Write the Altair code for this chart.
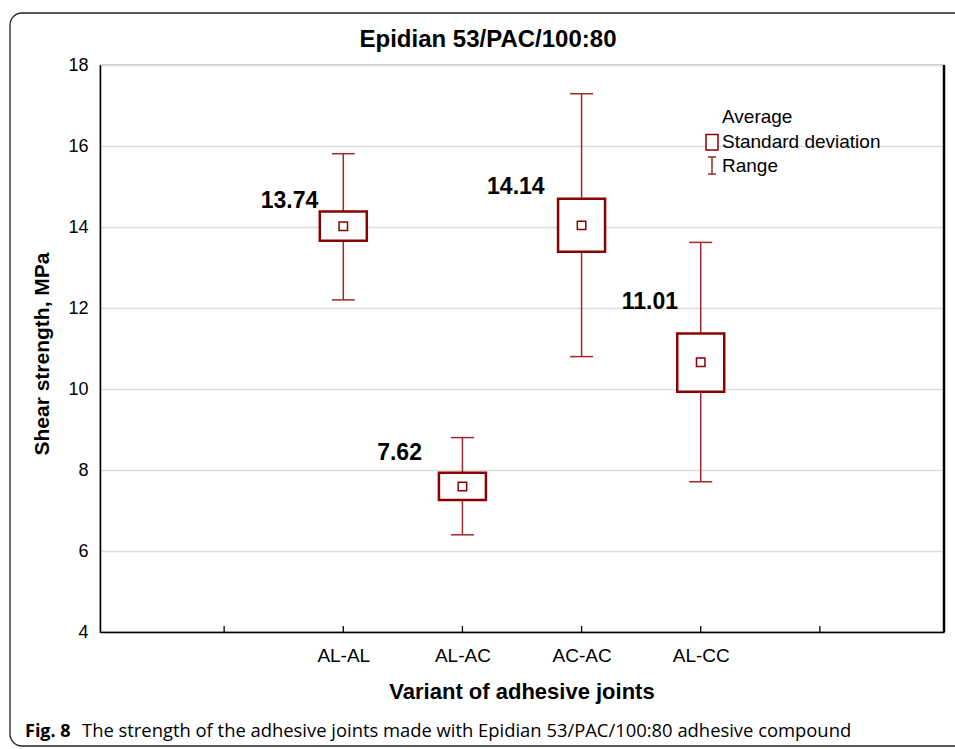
import altair as alt
import pandas as pd

# ---- data ----
categories = ["AL-AL", "AL-AC", "AC-AC", "AL-CC"]
means = [14.02, 7.59, 14.04, 10.66]
sd_low = [13.66, 7.26, 13.39, 9.93]
sd_high = [14.38, 7.93, 14.70, 11.37]
range_min = [12.20, 6.40, 10.80, 7.71]
range_max = [15.81, 8.80, 17.29, 13.62]
value_labels = ["13.74", "7.62", "14.14", "11.01"]
# annotation anchors (data units) for the value labels
label_x = [1.79, 2.66, 3.69, 4.81]
label_y = [14.47, 8.25, 14.81, 11.98]
x_ticks = [1, 2, 3, 4, 5, 6]
y_ticks = [4, 6, 8, 10, 12, 14, 16, 18]

W, H = 844, 567
DARK = "#8B0000"
WHISK = "#9E2A2B"
FONT = "Liberation Sans"

df = pd.DataFrame({
    "cat": categories,
    "pos": [i + 2 for i in range(len(categories))],
    "mean": means,
    "lo": sd_low,
    "hi": sd_high,
    "mn": range_min,
    "mx": range_max,
    "lab": value_labels,
    "lx": label_x,
    "ly": label_y,
})
ticks_df = pd.DataFrame({"t": x_ticks})
one = pd.DataFrame({"k": [0]})

label_expr = " : ".join(
    [f"datum.value == {i + 2} ? '{c}'" for i, c in enumerate(categories)]
) + " : ''"

xs = alt.Scale(domain=[0, 7], nice=False, zero=False)
ys = alt.Scale(domain=[4, 18], nice=False, zero=False)

X = alt.X("pos:Q", scale=xs, axis=alt.Axis(
    title=None, values=x_ticks, labelExpr=label_expr, grid=False, ticks=False,
    labelPadding=14, labelFontSize=19, labelFont=FONT, labelColor="black",
    domainColor="black", domainWidth=1.5))

base = alt.Chart(df)

frame = alt.Chart(one).mark_rect(
    fill="white", fillOpacity=0, stroke="#222", strokeWidth=1.3, cornerRadius=12
).encode(x=alt.value(-90), x2=alt.value(880), y=alt.value(-52), y2=alt.value(681))

grid_axis = alt.Chart(df).mark_point(opacity=0).encode(
    x=X,
    y=alt.Y("mean:Q", scale=ys, axis=alt.Axis(
        title=None, values=y_ticks, grid=True, gridColor="#DCDCDC", gridWidth=1.5,
        ticks=False, labelPadding=12, labelFontSize=18, labelFont=FONT,
        labelColor="black", domainColor="black", domainWidth=1.5)),
)

inner_ticks = alt.Chart(ticks_df).mark_rule(color="black", strokeWidth=1.3).encode(
    x=alt.X("t:Q", scale=xs), y=alt.value(H), y2=alt.value(H - 6))

right_border = alt.Chart(one).mark_rule(color="black", strokeWidth=2.5).encode(
    x=alt.value(W), y=alt.value(0), y2=alt.value(H))

whisk = base.mark_rule(color=WHISK, strokeWidth=1.5).encode(
    x=alt.X("pos:Q", scale=xs), y=alt.Y("mn:Q", scale=ys), y2="mx:Q")
cap_top = base.mark_rule(color=WHISK, strokeWidth=1.5, xOffset=-11.5, x2Offset=11.5).encode(
    x=alt.X("pos:Q", scale=xs), x2="pos:Q", y=alt.Y("mx:Q", scale=ys))
cap_bot = base.mark_rule(color=WHISK, strokeWidth=1.5, xOffset=-11.5, x2Offset=11.5).encode(
    x=alt.X("pos:Q", scale=xs), x2="pos:Q", y=alt.Y("mn:Q", scale=ys))

box = base.mark_bar(width=47, fill="white", stroke=DARK, strokeWidth=2.5).encode(
    x=alt.X("pos:Q", scale=xs), y=alt.Y("lo:Q", scale=ys), y2="hi:Q")

mean_pt = base.mark_point(shape="square", size=72, filled=False, fill="white",
                          color=DARK, strokeWidth=1.5, opacity=1).encode(
    x=alt.X("pos:Q", scale=xs), y=alt.Y("mean:Q", scale=ys))

labels = base.mark_text(align="right", baseline="alphabetic", fontSize=23,
                        fontWeight="bold", font=FONT, color="black").encode(
    x=alt.X("lx:Q", scale=xs), y=alt.Y("ly:Q", scale=ys), text="lab:N")

def txt(s, x, y, size, weight="normal", align="left", baseline="alphabetic",
        angle=0, font=FONT):
    kw = dict(text=s, align=align, baseline=baseline, fontSize=size,
              fontWeight=weight, font=font, color="black")
    if angle:
        kw["angle"] = angle
    return alt.Chart(one).mark_text(**kw).encode(x=alt.value(x), y=alt.value(y))

title = txt("Epidian 53/PAC/100:80", 388, -18, 24, "bold", "center")
ytitle = txt("Shear strength, MPa", -57, 289, 21, "bold", "center", "middle", 270)
xtitle = txt("Variant of adhesive joints", 422, 634, 22, "bold", "center")

leg_avg = txt("Average", 622, 58, 19)
leg_sd = txt("Standard deviation", 622, 83, 19)
leg_rng = txt("Range", 622, 107, 19)
leg_box = alt.Chart(one).mark_rect(fill="white", stroke=DARK, strokeWidth=1.5).encode(
    x=alt.value(606), x2=alt.value(618), y=alt.value(69.5), y2=alt.value(85))
leg_r1 = alt.Chart(one).mark_rule(color=WHISK, strokeWidth=1.5).encode(
    x=alt.value(612), y=alt.value(92), y2=alt.value(109))
leg_r2 = alt.Chart(one).mark_rule(color=WHISK, strokeWidth=1.5).encode(
    x=alt.value(608), x2=alt.value(616), y=alt.value(92))
leg_r3 = alt.Chart(one).mark_rule(color=WHISK, strokeWidth=1.5).encode(
    x=alt.value(608), x2=alt.value(616), y=alt.value(109))

cap1 = txt("Fig. 8", -75, 672, 18, "bold", font="Open Sans")
cap2 = txt("The strength of the adhesive joints made with Epidian 53/PAC/100:80 adhesive compound",
           -18, 672, 18.4, font="Open Sans")

chart = alt.layer(
    frame, grid_axis, inner_ticks, right_border, whisk, cap_top, cap_bot, box, mean_pt,
    labels, title, ytitle, xtitle, leg_avg, leg_sd, leg_rng, leg_box, leg_r1, leg_r2,
    leg_r3, cap1, cap2,
).properties(
    width=W, height=H,
    autosize=alt.AutoSizeParams(type="none"),
    padding={"left": 100, "top": 65, "right": 11, "bottom": 117},
    background="white",
).configure_view(stroke="#333", strokeWidth=1.2)

chart.save("out.html", embed_options={"renderer": "svg", "actions": False})
